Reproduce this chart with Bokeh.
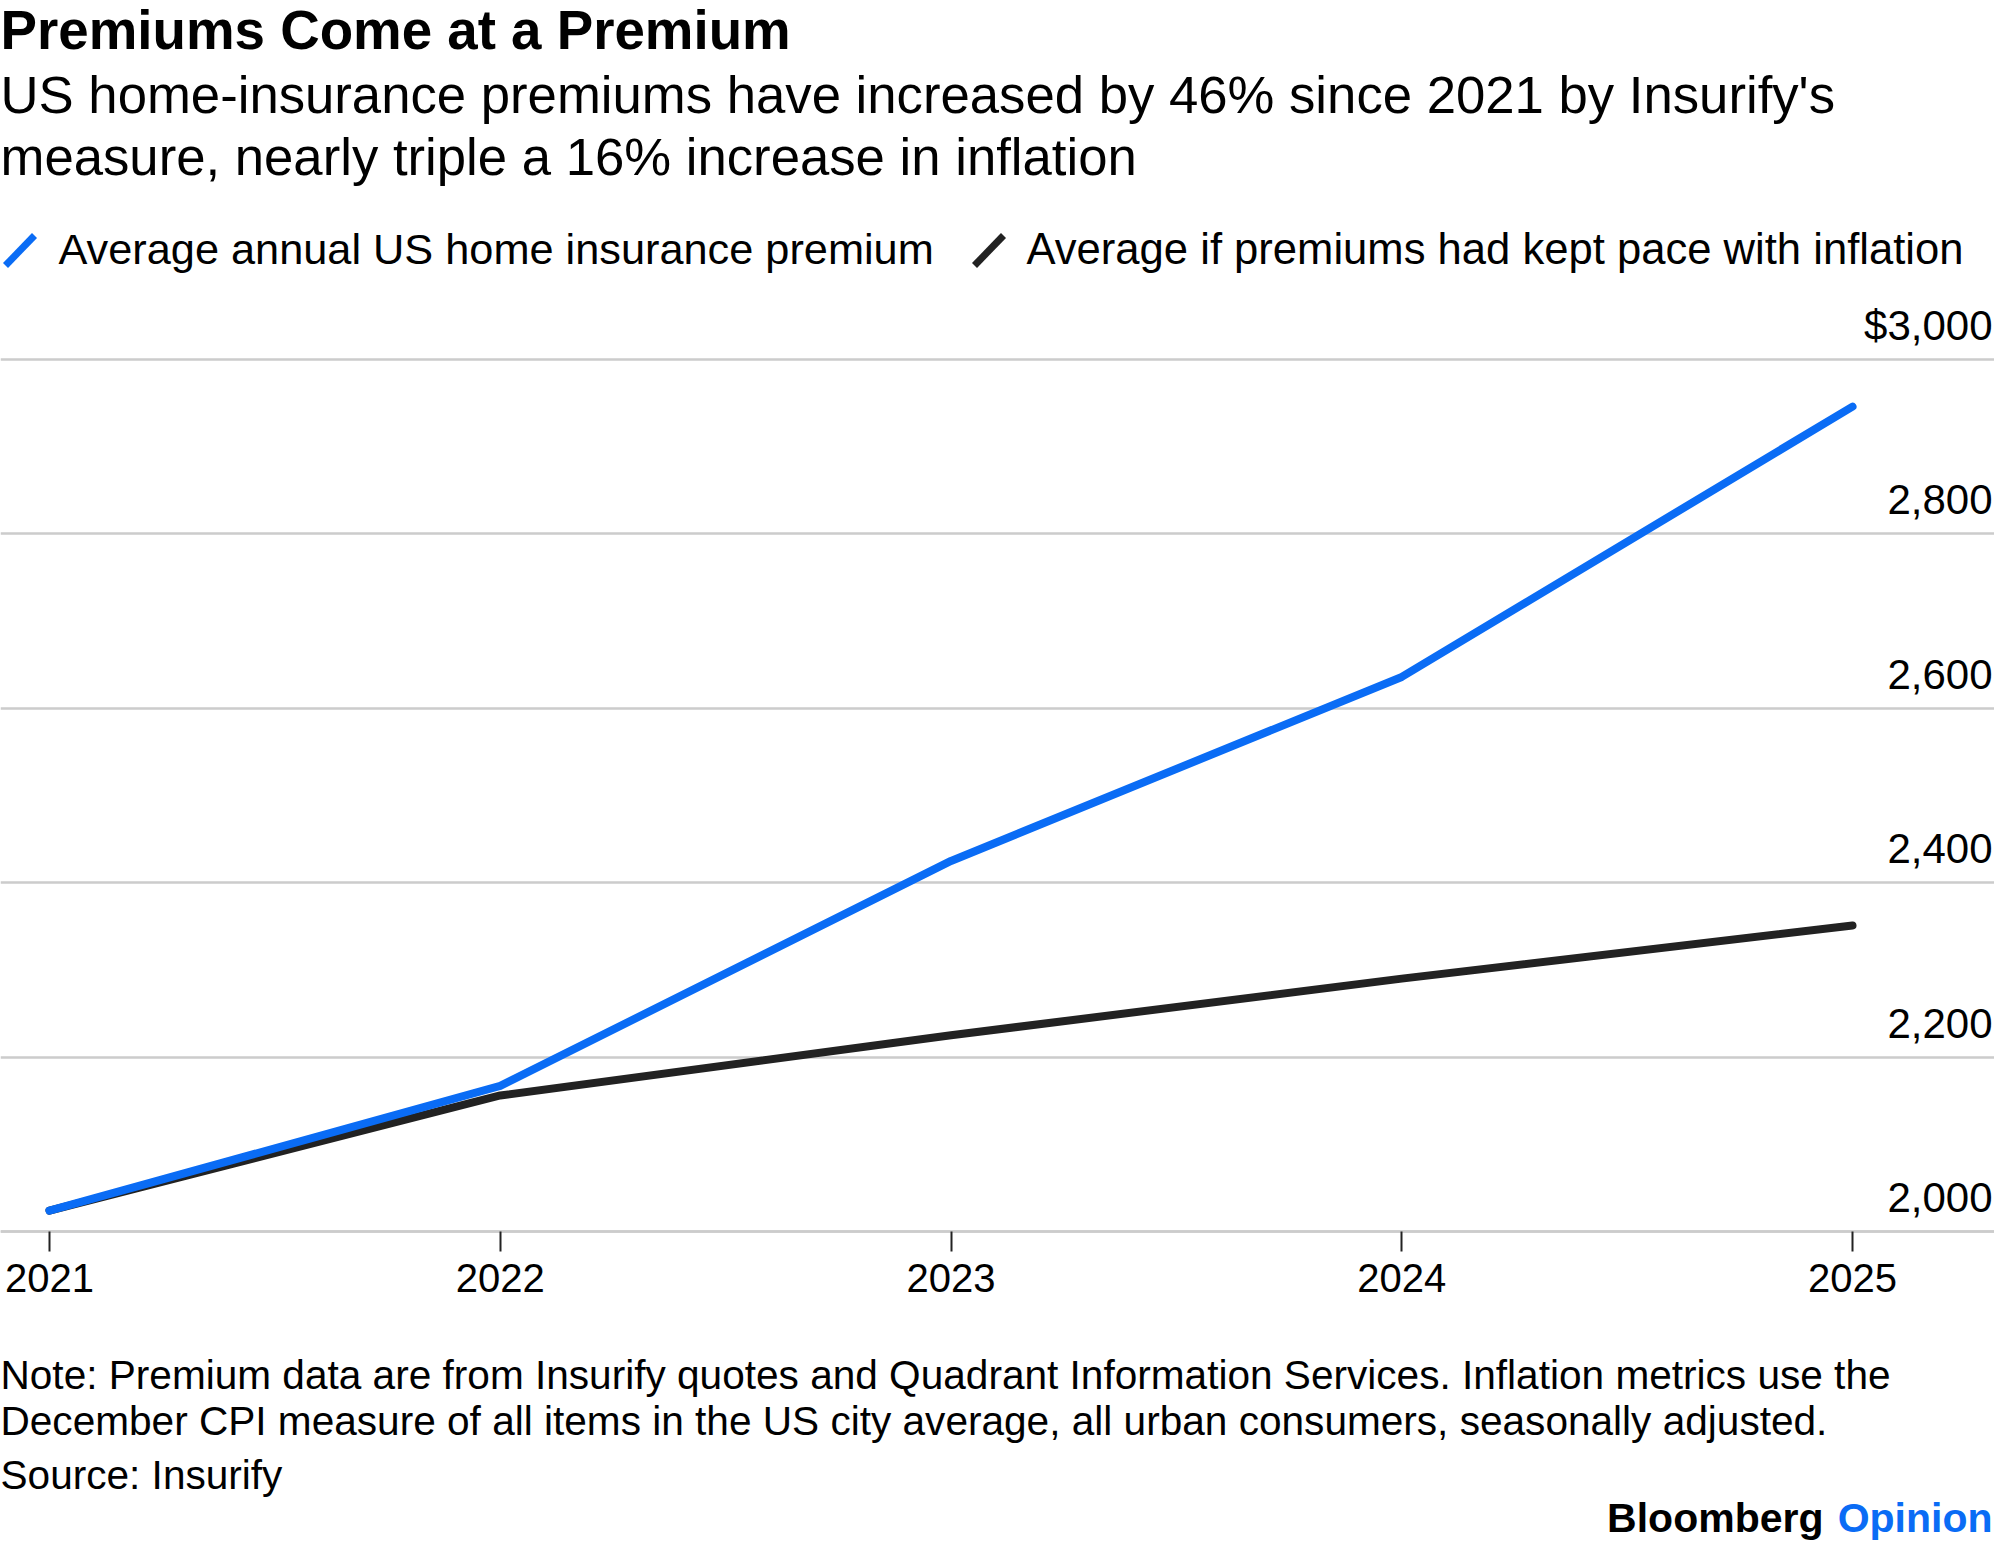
from bokeh.plotting import figure
from bokeh.models import Label, FixedTicker, Arrow, Range1d
from bokeh.embed import file_html
from bokeh.resources import INLINE

# ---------------- data ----------------
years = [2021, 2022, 2023, 2024, 2025]
premium = [2024, 2167, 2425, 2636, 2946]
inflation_paced = [2024, 2156, 2225, 2290, 2351]
y_ticks = [2000, 2200, 2400, 2600, 2800, 3000]
y_tick_labels = ["2,000", "2,200", "2,400", "2,600", "2,800", "$3,000"]
x_tick_labels = ["2021", "2022", "2023", "2024", "2025"]

title_text = "Premiums Come at a Premium"
subtitle_lines = [
    "US home-insurance premiums have increased by 46% since 2021 by Insurify's",
    "measure, nearly triple a 16% increase in inflation",
]
legend_labels = [
    "Average annual US home insurance premium",
    "Average if premiums had kept pace with inflation",
]
note_lines = [
    "Note: Premium data are from Insurify quotes and Quadrant Information Services. Inflation metrics use the",
    "December CPI measure of all items in the US city average, all urban consumers, seasonally adjusted.",
]
source_text = "Source: Insurify"

BLUE = "#0a6cf5"
DARK = "#222222"
FONT = "Liberation Sans"

W, H = 1994, 1544
p = figure(
    width=W, height=H,
    x_range=Range1d(2020.8913, 2025.315),
    y_range=Range1d(1641.1, 3411.7),
    output_backend="svg", toolbar_location=None,
    min_border_left=0, min_border_right=0,
    min_border_top=0, min_border_bottom=0,
)
p.outline_line_color = None
p.background_fill_color = "white"
p.border_fill_color = "white"
p.title.visible = False

# y axis (hidden) + grid
yt = FixedTicker(ticks=y_ticks)
p.yaxis.ticker = yt
p.ygrid.ticker = yt
p.yaxis.visible = False
p.ygrid.grid_line_color = "#cccccc"
p.ygrid.grid_line_width = 2.5
p.xgrid.visible = False

# x axis, fixed at the 2,000 baseline inside the frame
xa = p.xaxis[0]
xa.fixed_location = y_ticks[0]
xa.ticker = FixedTicker(ticks=years)
xa.major_label_overrides = {y: l for y, l in zip(years, x_tick_labels)}
xa.axis_line_color = "#cccccc"
xa.axis_line_width = 2.5
xa.major_tick_line_color = DARK
xa.major_tick_line_width = 2
xa.major_tick_in = 0
xa.major_tick_out = 20
xa.minor_tick_line_color = None
xa.major_label_text_font = FONT
xa.major_label_text_font_size = "40px"
xa.major_label_text_color = "#000000"
xa.major_label_standoff = 12

# lines
p.line(years, inflation_paced, line_color=DARK, line_width=8, line_cap="round", line_join="round")
p.line(years, premium, line_color=BLUE, line_width=8, line_cap="round", line_join="round")

# y tick labels, placed by data value above each gridline
for t, lab in zip(y_ticks, y_tick_labels):
    p.add_layout(Label(x=1992, y=t, x_units="screen", y_units="data", text=lab,
                       text_align="right", text_baseline="alphabetic", y_offset=34,
                       text_font=FONT, text_font_size="42px", text_color="#000000"))

def txt(x, y, s, size, bold=False, color="#000000", align="left"):
    p.add_layout(Label(x=x, y=y, x_units="screen", y_units="screen", text=s,
                       text_align=align, text_baseline="alphabetic",
                       text_font=FONT, text_font_size=size,
                       text_font_style="bold" if bold else "normal",
                       text_color=color))

txt(0, 1515, title_text, "54.7px", bold=True)
txt(0, 1450, subtitle_lines[0], "52.7px")
txt(0, 1388, subtitle_lines[1], "52.7px")

# legend
p.add_layout(Arrow(end=None, x_start=5, y_start=1279, x_end=34, y_end=1309,
                   start_units="screen", end_units="screen",
                   line_color=BLUE, line_width=7, line_cap="butt"))
txt(58, 1296, legend_labels[0], "43.3px")
p.add_layout(Arrow(end=None, x_start=974, y_start=1279, x_end=1003, y_end=1309,
                   start_units="screen", end_units="screen",
                   line_color=DARK, line_width=7, line_cap="butt"))
txt(1026, 1296, legend_labels[1], "43.6px")

# notes
txt(0, 170, note_lines[0], "40.6px")
txt(0, 124, note_lines[1], "40.6px")
txt(0, 70, source_text, "40.6px")
txt(1823, 27, "Bloomberg", "41px", bold=True, align="right")
txt(1992, 27, "Opinion", "41px", bold=True, color=BLUE, align="right")

open("out.html", "w").write(file_html(p, INLINE))
